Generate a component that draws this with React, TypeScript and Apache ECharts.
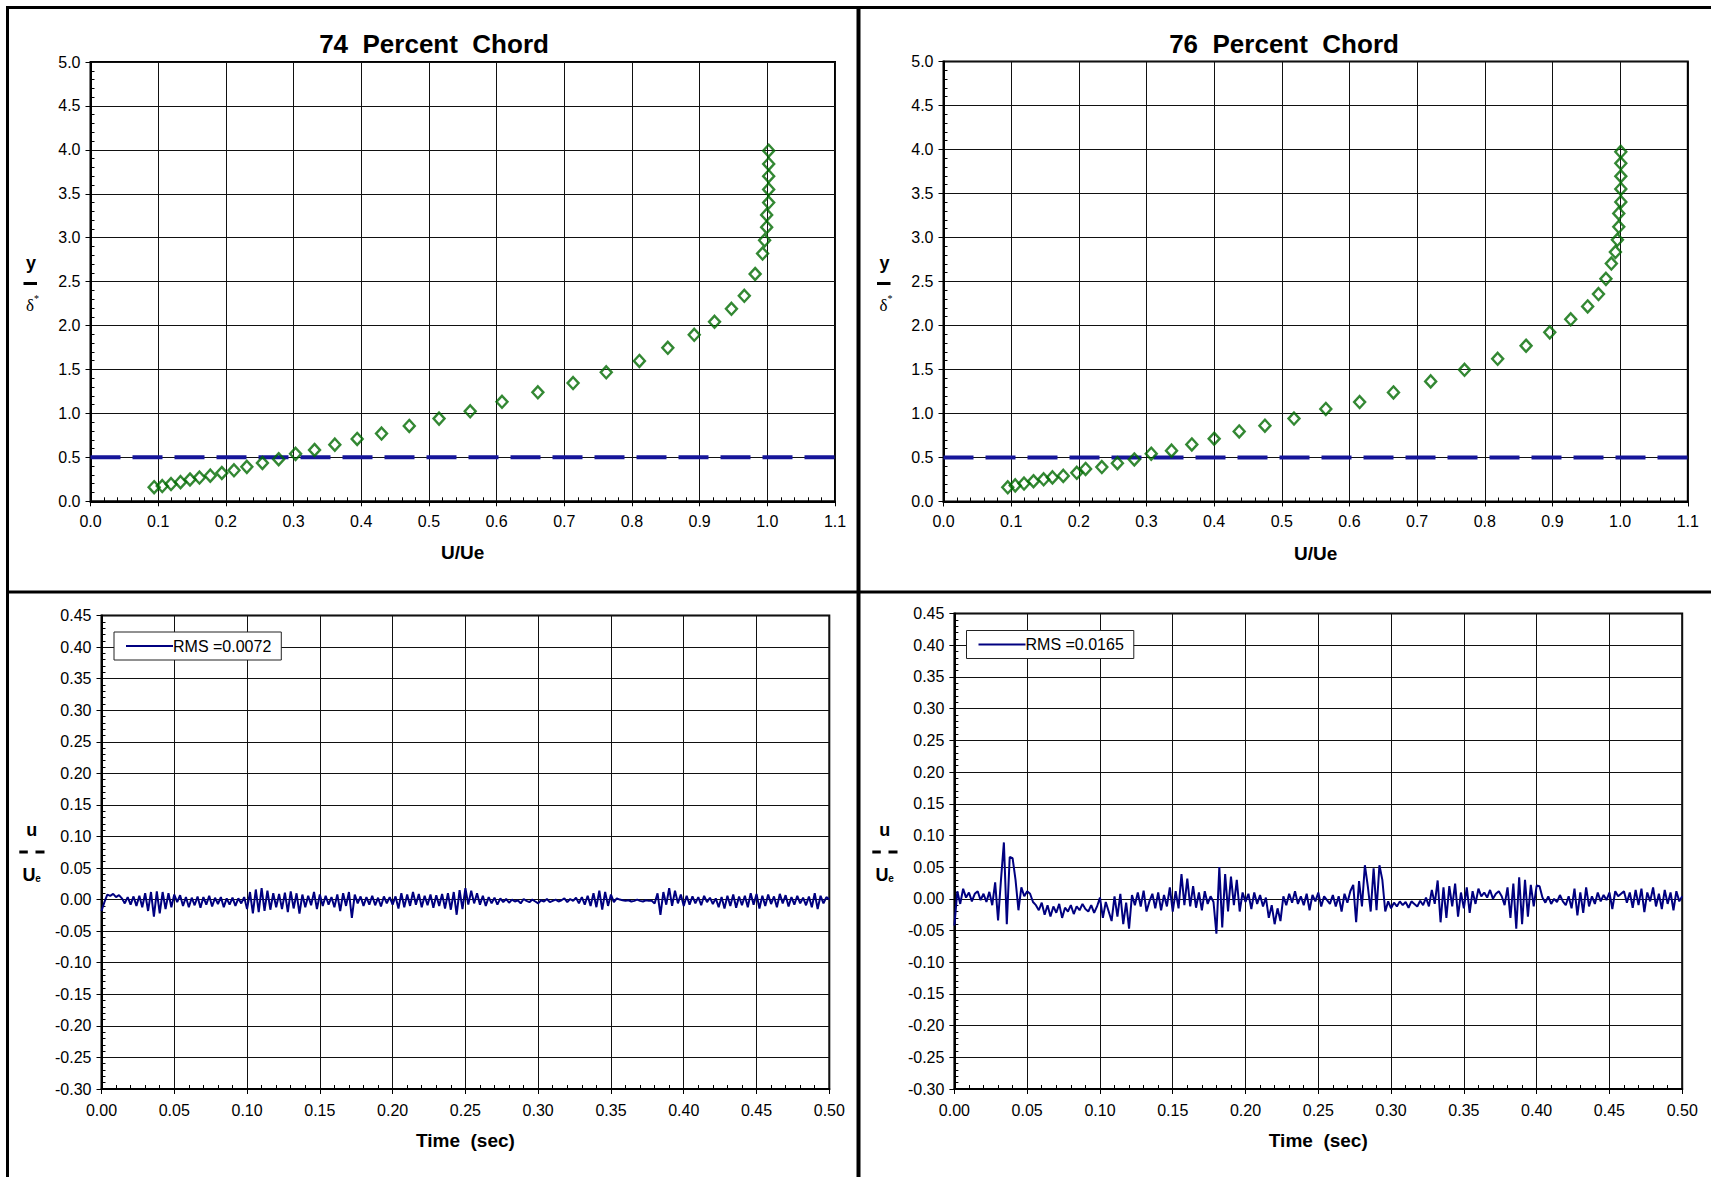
import React, { useEffect, useRef } from "react";
import * as echarts from "echarts";

// ---------- DATA ----------
const titles = ["74  Percent  Chord", "76  Percent  Chord"];

// Mean velocity profiles (U/Ue vs y/delta*)
const uUe74 = [0.094, 0.106, 0.119, 0.133, 0.147, 0.161, 0.177, 0.194, 0.212, 0.231, 0.254, 0.278, 0.303, 0.331, 0.361, 0.394, 0.430, 0.471, 0.515, 0.561, 0.608, 0.661, 0.713, 0.762, 0.811, 0.853, 0.892, 0.922, 0.947, 0.966, 0.982, 0.993, 0.996, 0.999, 0.999, 1.002, 1.002, 1.002, 1.002, 1.002];
const yDelta74 = [0.161, 0.174, 0.196, 0.218, 0.248, 0.270, 0.292, 0.322, 0.353, 0.392, 0.436, 0.479, 0.540, 0.584, 0.645, 0.710, 0.771, 0.858, 0.941, 1.024, 1.132, 1.241, 1.346, 1.468, 1.598, 1.747, 1.895, 2.043, 2.191, 2.339, 2.587, 2.820, 2.970, 3.120, 3.260, 3.400, 3.550, 3.700, 3.840, 3.990];

const uUe76 = [0.095, 0.106, 0.119, 0.133, 0.148, 0.161, 0.177, 0.197, 0.210, 0.234, 0.257, 0.282, 0.307, 0.337, 0.367, 0.400, 0.437, 0.475, 0.518, 0.565, 0.615, 0.665, 0.720, 0.770, 0.819, 0.861, 0.896, 0.927, 0.952, 0.968, 0.979, 0.987, 0.993, 0.996, 0.998, 0.998, 1.001, 1.001, 1.001, 1.001, 1.001];
const yDelta76 = [0.161, 0.183, 0.204, 0.230, 0.252, 0.274, 0.291, 0.326, 0.370, 0.391, 0.435, 0.478, 0.543, 0.578, 0.648, 0.713, 0.796, 0.861, 0.943, 1.052, 1.130, 1.239, 1.365, 1.496, 1.622, 1.770, 1.922, 2.070, 2.217, 2.357, 2.530, 2.704, 2.835, 2.974, 3.122, 3.274, 3.404, 3.552, 3.696, 3.843, 3.974];

// Reference line y/delta* = 0.5
const refLineU = [0, 1.11];
const refLineY = 0.5;

// Velocity fluctuation time histories (u/Ue), sampled every timeStep seconds
const timeStep = 0.002;
const rms74Label = "RMS =0.0072";
const rms76Label = "RMS =0.0165";

const fluct74 = [
  -0.018, -0.004, 0.008, 0.006, 0.009, 0.004, 0.007, 0.002, -0.006, 0.004,
  -0.008, 0.005, -0.010, 0.006, -0.012, 0.010, -0.018, 0.012, -0.027, 0.013,
  -0.022, 0.012, -0.015, 0.010, -0.012, 0.008, -0.004, 0.007, -0.010, 0.004,
  -0.012, 0.003, -0.009, 0.005, -0.013, 0.004, -0.008, 0.006, -0.011, 0.003,
  -0.007, 0.004, -0.012, 0.002, -0.008, 0.003, -0.010, 0.002, -0.006, 0.004,
  -0.015, 0.012, -0.022, 0.016, -0.020, 0.018, -0.018, 0.014, -0.016, 0.010,
  -0.012, 0.009, -0.015, 0.011, -0.020, 0.013, -0.014, 0.010, -0.022, 0.008,
  -0.012, 0.006, -0.009, 0.012, -0.015, 0.008, -0.010, 0.006, -0.008, 0.004,
  -0.012, 0.008, -0.018, 0.010, -0.010, 0.012, -0.029, 0.008, -0.006, 0.005,
  -0.010, 0.004, -0.008, 0.006, -0.009, 0.003, -0.011, 0.005, -0.006, 0.004,
  -0.008, 0.005, -0.014, 0.010, -0.012, 0.008, -0.010, 0.012, -0.008, 0.009,
  -0.012, 0.006, -0.009, 0.008, -0.013, 0.007, -0.010, 0.009, -0.014, 0.010,
  -0.016, 0.012, -0.024, 0.015, -0.015, 0.018, -0.008, 0.014, -0.006, 0.010,
  -0.008, 0.006, -0.010, 0.004, -0.006, 0.003, -0.008, 0.002, -0.004, 0.001,
  -0.005, 0.000, -0.003, -0.001, -0.006, 0.001, -0.002, -0.004, 0.000, -0.003,
  -0.006, -0.001, -0.003, 0.001, -0.004, -0.002, 0.000, -0.003, -0.001, 0.002,
  -0.004, 0.001, -0.002, 0.003, -0.006, 0.004, -0.008, 0.006, -0.010, 0.010,
  -0.012, 0.014, -0.016, 0.012, -0.010, 0.008, -0.004, 0.002, 0.000, -0.001,
  -0.002, -0.001, -0.003, -0.002, 0.000, -0.002, -0.003, -0.001, -0.002, -0.002,
  -0.006, 0.010, -0.024, 0.012, -0.008, 0.018, -0.010, 0.014, -0.006, 0.008,
  -0.010, 0.006, -0.008, 0.005, -0.006, 0.004, -0.009, 0.006, -0.004, 0.003,
  -0.007, 0.002, -0.012, 0.004, -0.014, 0.006, -0.010, 0.008, -0.013, 0.005,
  -0.009, 0.006, -0.012, 0.010, -0.008, 0.009, -0.014, 0.006, -0.010, 0.008,
  -0.007, 0.005, -0.012, 0.009, -0.006, 0.007, -0.011, 0.004, -0.008, 0.006,
  -0.006, 0.003, -0.009, 0.005, -0.012, 0.010, -0.015, 0.006, -0.006, 0.004,
  0.000,
];

const fluct76 = [
  -0.042, 0.012, -0.008, 0.016, 0.002, 0.010, -0.004, 0.008, 0.012, -0.002,
  0.008, -0.005, 0.011, -0.010, 0.026, -0.034, 0.030, 0.089, -0.040, 0.066,
  0.064, 0.030, -0.018, 0.018, 0.004, 0.012, 0.008, -0.005, -0.010, -0.018,
  -0.006, -0.025, -0.010, -0.028, -0.012, -0.022, -0.008, -0.030, -0.014, -0.020,
  -0.010, -0.024, -0.012, -0.018, -0.008, -0.016, -0.020, -0.010, -0.022, -0.012,
  0.002, -0.030, -0.005, -0.020, -0.035, 0.004, -0.028, 0.008, -0.040, -0.006,
  -0.047, 0.006, -0.010, 0.010, -0.012, 0.013, -0.020, -0.004, 0.008, -0.015,
  0.010, -0.018, 0.006, -0.012, 0.018, -0.020, 0.012, -0.015, 0.039, -0.010,
  0.032, -0.012, 0.020, -0.014, 0.010, -0.018, 0.012, -0.008, 0.004, -0.005,
  -0.055, 0.050, -0.045, 0.039, -0.020, 0.035, -0.010, 0.030, -0.020, 0.010,
  -0.005, 0.008, -0.016, 0.010, -0.008, 0.006, -0.012, 0.002, -0.030, -0.010,
  -0.040, -0.015, -0.035, 0.004, -0.010, 0.008, -0.006, 0.012, -0.008, 0.004,
  -0.010, 0.008, -0.018, 0.006, -0.004, 0.010, -0.012, 0.004, -0.002, -0.008,
  0.006, -0.012, 0.004, -0.020, 0.008, -0.006, 0.012, 0.022, -0.037, 0.028,
  -0.012, 0.053, 0.020, -0.020, 0.048, -0.018, 0.053, 0.030, -0.020, -0.004,
  -0.015, -0.006, -0.012, -0.004, -0.010, -0.005, -0.014, -0.004, -0.008, -0.012,
  -0.003, -0.010, 0.002, -0.012, 0.014, -0.008, 0.029, -0.037, 0.018, -0.030,
  0.020, -0.012, 0.024, -0.028, 0.010, -0.015, 0.018, -0.022, 0.012, -0.008,
  0.016, 0.004, 0.010, 0.002, 0.014, 0.000, 0.008, 0.012, 0.004, -0.010,
  0.018, -0.030, 0.024, -0.047, 0.034, -0.040, 0.030, -0.028, 0.022, -0.012,
  0.021, 0.020, 0.002, -0.006, 0.004, -0.008, 0.000, -0.005, 0.006, -0.004,
  -0.010, 0.004, -0.015, 0.016, -0.026, 0.010, -0.022, 0.018, -0.012, 0.004,
  -0.008, 0.010, -0.004, 0.006, -0.002, 0.010, -0.016, 0.012, 0.004, 0.008,
  0.012, -0.006, 0.010, -0.014, 0.014, -0.010, 0.016, -0.021, 0.010, -0.004,
  0.018, -0.012, 0.008, -0.016, 0.014, -0.008, 0.010, -0.018, 0.012, -0.004,
  0.004,
];

// ---------- STYLE ----------
const FONT = "'Liberation Sans', Arial, Helvetica, sans-serif";
const SERIF = "'Liberation Serif', 'DejaVu Serif', serif";
const GREEN = "#006a00";
const NAVY = "#000080";
const DASH_BLUE = "#16169a";

const grids = [
  { left: 90.5, top: 62, width: 744.5, height: 439.3 },
  { left: 943.5, top: 61.5, width: 744.3, height: 440 },
  { left: 101.5, top: 615.5, width: 727.8, height: 473.5 },
  { left: 954.4, top: 613.6, width: 727.8, height: 475.4 },
];

const fmt = (d: number) => (v: number) => (Math.abs(v) < 1e-9 ? 0 : v).toFixed(d);

function mainAxis(
  gridIndex: number,
  isX: boolean,
  min: number,
  max: number,
  interval: number,
  decimals: number,
  name: string,
  nameGap: number,
  labelMargin: number
) {
  return {
    type: "value",
    gridIndex,
    position: isX ? "bottom" : "left",
    min,
    max,
    interval,
    name,
    nameLocation: "middle",
    nameGap,
    nameTextStyle: { fontSize: 19, fontWeight: "bold", fontFamily: FONT, color: "#000" },
    axisLine: { show: true, onZero: false, lineStyle: { color: "#000", width: 2 } },
    axisTick: { show: true, inside: false, length: 5, lineStyle: { color: "#000", width: 1 } },
    minorTick: { show: false },
    axisLabel: {
      show: true,
      formatter: fmt(decimals),
      fontSize: 16,
      fontFamily: FONT,
      color: "#000",
      margin: labelMargin,
      showMinLabel: true,
      showMaxLabel: true,
      hideOverlap: false,
    },
    splitLine: { show: true, lineStyle: { color: "#111", width: 1 } },
    minorSplitLine: { show: false },
  };
}

function minorAxis(gridIndex: number, isX: boolean, min: number, max: number, interval: number) {
  return {
    type: "value",
    gridIndex,
    position: isX ? "bottom" : "left",
    min,
    max,
    interval,
    axisLine: { show: false, onZero: false },
    axisTick: { show: false, inside: true },
    minorTick: { show: true, splitNumber: 5, length: 4, lineStyle: { color: "#000", width: 1 } },
    axisLabel: { show: false },
    splitLine: { show: false },
    minorSplitLine: { show: false },
  };
}

function frameLine(x1: number, y1: number, x2: number, y2: number, w: number) {
  return { type: "line", silent: true, shape: { x1, y1, x2, y2 }, style: { stroke: "#000", lineWidth: w } };
}

function txt(x: number, y: number, text: string, size: number, weight: string, family: string) {
  return {
    type: "text",
    x,
    y,
    silent: true,
    style: {
      text,
      fill: "#000",
      fontSize: size,
      fontWeight: weight,
      fontFamily: family,
      align: "center",
      verticalAlign: "middle",
    },
  };
}

function barRect(x: number, y: number, w: number, h: number) {
  return { type: "rect", silent: true, shape: { x, y, width: w, height: h }, style: { fill: "#000" } };
}

function yNameTop(ox: number) {
  return [
    txt(31 + ox, 263, "y", 18, "bold", FONT),
    barRect(23.5 + ox, 282, 13.5, 3),
    txt(30 + ox, 305, "δ", 17, "normal", SERIF),
    txt(36.5 + ox, 298.5, "*", 10, "normal", SERIF),
  ];
}

function yNameBottom(ox: number) {
  return [
    txt(31.7 + ox, 829.5, "u", 18, "bold", FONT),
    barRect(19.3 + ox, 850.5, 8.5, 3),
    barRect(35.5 + ox, 850.5, 9, 3),
    txt(29 + ox, 874.5, "U", 18, "bold", FONT),
    txt(38 + ox, 878.5, "e", 10, "bold", FONT),
  ];
}

function legendFor(name: string, left: number, top: number) {
  return {
    show: true,
    data: [name],
    left,
    top,
    orient: "horizontal",
    backgroundColor: "#fff",
    borderColor: "#222",
    borderWidth: 1,
    borderRadius: 0,
    padding: [6, 10, 6, 12],
    icon: "rect",
    itemWidth: 47,
    itemHeight: 2,
    itemGap: 0,
    selectedMode: false,
    itemStyle: { color: NAVY, borderWidth: 0 },
    textStyle: { fontSize: 16, fontFamily: FONT, color: "#000", padding: [0, 0, 0, -5] },
  };
}

export default function App() {
  const ref = useRef<HTMLDivElement>(null);

  useEffect(() => {
    if (!ref.current) return;
    const chart = echarts.init(ref.current, undefined, { renderer: "svg" });

    const refLineData = refLineU.map((u) => [u, refLineY]);
    const scatter74 = uUe74.map((u, i) => [u, yDelta74[i]]);
    const scatter76 = uUe76.map((u, i) => [u, yDelta76[i]]);
    const series74 = fluct74.map((v, i) => [i * timeStep, v]);
    const series76 = fluct76.map((v, i) => [i * timeStep, v]);

    const refSeries = (axis: number) => ({
      type: "line",
      name: "ref" + axis,
      xAxisIndex: axis,
      yAxisIndex: axis,
      data: refLineData,
      symbol: "none",
      clip: false,
      silent: true,
      z: 2,
      lineStyle: { color: DASH_BLUE, width: 4, type: [30, 12] },
    });
    const profSeries = (axis: number, data: number[][]) => ({
      type: "scatter",
      name: "profile" + axis,
      xAxisIndex: axis,
      yAxisIndex: axis,
      data,
      symbol: "diamond",
      symbolSize: [11, 12],
      z: 3,
      itemStyle: { color: "rgba(255,255,255,0)", borderColor: GREEN, borderWidth: 2.4 },
    });
    const timeSeries = (axis: number, name: string, data: number[][]) => ({
      type: "line",
      name,
      xAxisIndex: axis,
      yAxisIndex: axis,
      data,
      symbol: "none",
      showSymbol: false,
      z: 3,
      lineStyle: { color: NAVY, width: 2 },
      itemStyle: { color: NAVY },
    });

    const option: any = {
      animation: false,
      backgroundColor: "#fff",
      textStyle: { fontFamily: FONT },
      grid: grids.map((g) => ({
        ...g,
        show: true,
        borderColor: "#000",
        borderWidth: 2,
        backgroundColor: "transparent",
        containLabel: false,
      })),
      xAxis: [
        mainAxis(0, true, 0, 1.1, 0.1, 1, "U/Ue", 42, 12),
        minorAxis(0, true, 0, 1.1, 0.1),
        mainAxis(1, true, 0, 1.1, 0.1, 1, "U/Ue", 42, 12),
        minorAxis(1, true, 0, 1.1, 0.1),
        mainAxis(2, true, 0, 0.5, 0.05, 2, "Time  (sec)", 42, 13),
        minorAxis(2, true, 0, 0.5, 0.05),
        mainAxis(3, true, 0, 0.5, 0.05, 2, "Time  (sec)", 42, 13),
        minorAxis(3, true, 0, 0.5, 0.05),
      ],
      yAxis: [
        mainAxis(0, false, 0, 5, 0.5, 1, "", 0, 10),
        minorAxis(0, false, 0, 5, 0.5),
        mainAxis(1, false, 0, 5, 0.5, 1, "", 0, 10),
        minorAxis(1, false, 0, 5, 0.5),
        mainAxis(2, false, -0.3, 0.45, 0.05, 2, "", 0, 10),
        minorAxis(2, false, -0.3, 0.45, 0.05),
        mainAxis(3, false, -0.3, 0.45, 0.05, 2, "", 0, 10),
        minorAxis(3, false, -0.3, 0.45, 0.05),
      ],
      legend: [legendFor(rms74Label, 114, 632), legendFor(rms76Label, 966.5, 630.5)],
      series: [
        refSeries(0),
        profSeries(0, scatter74),
        refSeries(2),
        profSeries(2, scatter76),
        timeSeries(4, rms74Label, series74),
        timeSeries(6, rms76Label, series76),
      ],
      graphic: [
        frameLine(7.5, 7, 7.5, 1177, 3),
        frameLine(6, 7.5, 1711, 7.5, 3),
        frameLine(858.5, 6, 858.5, 1177, 4),
        frameLine(6, 592, 1711, 592, 3),
        txt(434, 44, titles[0], 26, "bold", FONT),
        txt(1284, 44, titles[1], 26, "bold", FONT),
        ...yNameTop(0),
        ...yNameTop(853.5),
        ...yNameBottom(0),
        ...yNameBottom(853),
      ],
    };

    chart.setOption(option);
    return () => chart.dispose();
  }, []);

  return (
    <div
      ref={ref}
      style={{ position: "absolute", left: 0, top: 0, width: 1711, height: 1177, background: "#fff" }}
    />
  );
}
